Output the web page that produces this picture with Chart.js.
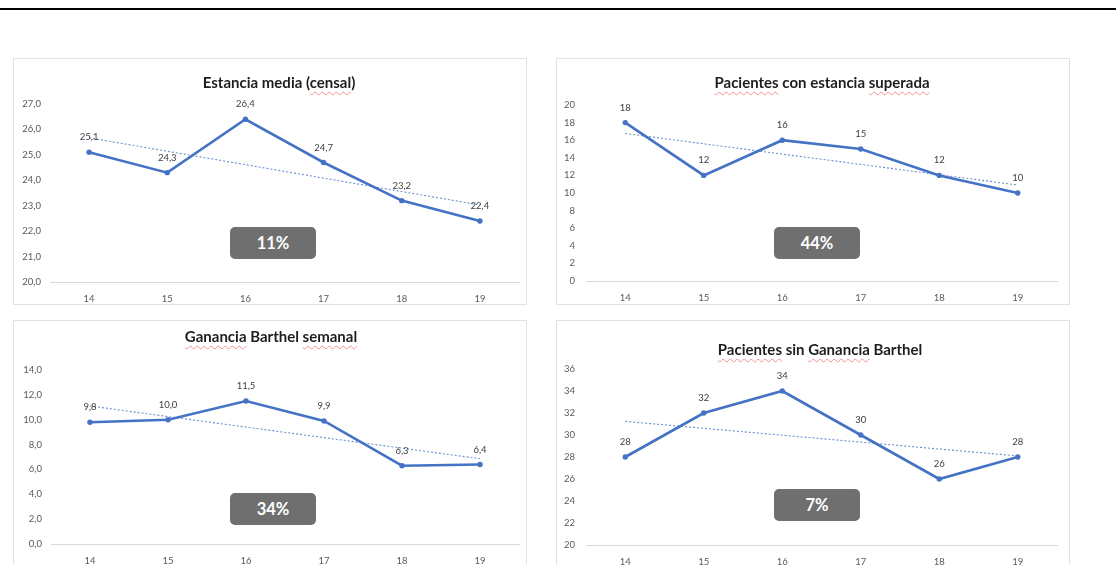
<!DOCTYPE html>
<html>
<head>
<meta charset="utf-8">
<script src="https://cdn.jsdelivr.net/npm/chart.js@4.4.1/dist/chart.umd.min.js"></script>
<style>
  html, body { margin: 0; padding: 0; background: #fff; }
  body { width: 1116px; height: 565px; overflow: hidden; position: relative; font-family: Lato, "Open Sans", sans-serif; }
  .rule { position: absolute; left: 0; top: 8px; width: 1116px; height: 2px; background: #000; }
  .panel { position: absolute; width: 514px; height: 247px; box-sizing: border-box; border: 1px solid #e2e2e2; background: #fff; }
  .panel canvas { position: absolute; left: 0; top: 0; }
  .title { position: absolute; left: 0; width: 514px; text-align: center; font: bold 15px Lato, sans-serif; color: #1e1e1e; line-height: 18px; white-space: nowrap; }
  .sp { text-decoration: underline wavy rgba(225, 70, 70, 0.55); text-decoration-thickness: 1px; text-underline-offset: 3px; }
  .badge { position: absolute; width: 86px; height: 32px; border-radius: 5px; background: #6f6f6f; color: #fff;
           font: bold 16.5px Lato, sans-serif; display: flex; align-items: center; justify-content: center; }
</style>
</head>
<body>
<div class="rule"></div>

<div class="panel" id="p1"><canvas id="c1" width="514" height="247"></canvas>
  <div class="title" style="top:14px;padding-left:8px">Estancia media (<span class="sp">censal</span>)</div>
  <div class="badge" id="b1" style="left:216px;top:168px"></div>
</div>
<div class="panel" id="p2"><canvas id="c2" width="514" height="247"></canvas>
  <div class="title" style="top:14px;padding-left:8px"><span class="sp">Pacientes</span> con estancia <span class="sp">superada</span></div>
  <div class="badge" id="b2" style="left:217px;top:168px"></div>
</div>
<div class="panel" id="p3"><canvas id="c3" width="514" height="247"></canvas>
  <div class="title" style="top:6px"><span class="sp">Ganancia</span> Barthel <span class="sp">semanal</span></div>
  <div class="badge" id="b3" style="left:216px;top:172px"></div>
</div>
<div class="panel" id="p4"><canvas id="c4" width="514" height="247"></canvas>
  <div class="title" style="top:19px;padding-left:6px"><span class="sp">Pacientes</span> sin <span class="sp">Ganancia</span> Barthel</div>
  <div class="badge" id="b4" style="left:217px;top:168px"></div>
</div>

<script>
// Years on the category axis
const years = ['14', '15', '16', '17', '18', '19'];

// Series values per indicator
const estanciaMedia      = [25.1, 24.3, 26.4, 24.7, 23.2, 22.4];
const estanciaSuperada   = [18, 12, 16, 15, 12, 10];
const gananciaBarthel    = [9.8, 10.0, 11.5, 9.9, 6.3, 6.4];
const sinGananciaBarthel = [28, 32, 34, 30, 26, 28];

// Value-axis ranges: [min, max, step]
const estanciaMediaAxis    = [20, 27, 1];
const estanciaSuperadaAxis = [0, 20, 2];
const gananciaBarthelAxis  = [0, 14, 2];
const sinGananciaAxis      = [20, 36, 2];

// Decimals shown on ticks and point labels
const estanciaMediaDecimals    = 1;
const estanciaSuperadaDecimals = 0;
const gananciaBarthelDecimals  = 1;
const sinGananciaDecimals      = 0;

// Variation shown in the grey badge of each chart
const variaciones = ['11%', '44%', '34%', '7%'];

const BLUE = '#4472C4';
const W = 514, H = 247;

function fmt(v, d) {
  return Number(v).toFixed(d).replace('.', ',');
}

// Least-squares linear trendline over the series
function linearTrend(values) {
  const n = values.length;
  const xm = (n - 1) / 2;
  const ym = values.reduce((a, b) => a + b, 0) / n;
  let sxy = 0, sxx = 0;
  values.forEach((y, i) => { sxy += (i - xm) * (y - ym); sxx += (i - xm) * (i - xm); });
  const slope = sxy / sxx;
  return values.map((_, i) => ym + slope * (i - xm));
}

function pointLabels(decimals) {
  return {
    id: 'pointLabels',
    afterDatasetsDraw(chart) {
      const meta = chart.getDatasetMeta(0);
      const values = chart.data.datasets[0].data;
      const ctx = chart.ctx;
      ctx.save();
      ctx.font = '9.5px Lato, sans-serif';
      ctx.fillStyle = '#404040';
      ctx.textAlign = 'center';
      ctx.textBaseline = 'middle';
      meta.data.forEach((pt, i) => {
        ctx.fillText(fmt(values[i], decimals), pt.x, pt.y - 15);
      });
      ctx.restore();
    }
  };
}

function buildChart(canvasId, values, axis, decimals, area) {
  const tickFont = { family: 'Lato, sans-serif', size: 9.5 };
  new Chart(document.getElementById(canvasId), {
    type: 'line',
    data: {
      labels: years,
      datasets: [
        {
          data: values,
          borderColor: BLUE,
          backgroundColor: BLUE,
          borderWidth: 2.6,
          pointRadius: 2.7,
          pointBorderWidth: 0,
          pointBackgroundColor: BLUE,
          tension: 0
        },
        {
          data: linearTrend(values),
          borderColor: 'rgba(68,114,196,0.8)',
          borderWidth: 1.1,
          borderDash: [2, 2],
          pointRadius: 0,
          tension: 0
        }
      ]
    },
    options: {
      responsive: false,
      animation: false,
      devicePixelRatio: 1,
      layout: { padding: { top: area.top, right: W - area.right, left: 0, bottom: 0 } },
      plugins: { legend: { display: false }, tooltip: { enabled: false }, title: { display: false } },
      scales: {
        x: {
          offset: true,
          grid: { display: false, drawTicks: false },
          border: { display: true, color: '#d9d9d9', width: 1 },
          ticks: { font: tickFont, color: '#595959', padding: 11 },
          afterFit(s) { s.height = H - area.bottom; }
        },
        y: {
          min: axis[0], max: axis[1],
          grid: { display: false, drawTicks: false },
          border: { display: false },
          ticks: {
            stepSize: axis[2], font: tickFont, color: '#595959', padding: area.tickPad,
            callback: (v) => fmt(v, decimals)
          },
          afterFit(s) { s.width = area.left; }
        }
      }
    },
    plugins: [pointLabels(decimals)]
  });
}

// Panel placement on the page
const panelPos = { p1: [13, 58], p2: [556, 58], p3: [13, 320], p4: [556, 320] };
Object.entries(panelPos).forEach(([id, [x, y]]) => {
  const el = document.getElementById(id);
  el.style.left = x + 'px';
  el.style.top = y + 'px';
});

['b1', 'b2', 'b3', 'b4'].forEach((id, i) => { document.getElementById(id).textContent = variaciones[i]; });

buildChart('c1', estanciaMedia, estanciaMediaAxis, estanciaMediaDecimals,
  { left: 36, right: 505, top: 45, bottom: 223, tickPad: 9 });
buildChart('c2', estanciaSuperada, estanciaSuperadaAxis, estanciaSuperadaDecimals,
  { left: 29, right: 500, top: 46, bottom: 222, tickPad: 11 });
buildChart('c3', gananciaBarthel, gananciaBarthelAxis, gananciaBarthelDecimals,
  { left: 37, right: 505, top: 49, bottom: 223, tickPad: 9 });
buildChart('c4', sinGananciaBarthel, sinGananciaAxis, sinGananciaDecimals,
  { left: 29, right: 500, top: 48, bottom: 224, tickPad: 11 });
</script>
</body>
</html>
